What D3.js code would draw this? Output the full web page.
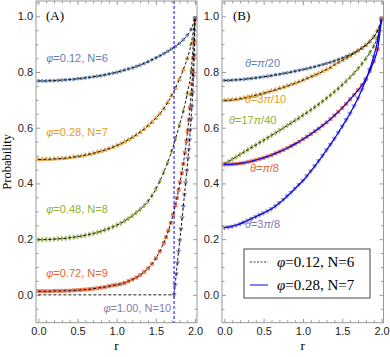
<!DOCTYPE html>
<html>
<head>
<meta charset="utf-8">
<script src="https://cdn.jsdelivr.net/npm/d3@7"></script>
<style>
  body { margin: 0; background: #fff; }
  svg { display: block; }
  .tick text { font-family: "Liberation Sans", Arial, sans-serif; font-size: 11px; fill: #222; }
  .tick line { stroke: #999; }
  .serif { font-family: "Liberation Serif", "Times New Roman", serif; }
  .lab { font-family: "Liberation Sans", Arial, sans-serif; font-size: 11px; }
</style>
</head>
<body>
<div id="chart-area"></div>
<script>
// r grid shared by most series
var rGrid = [0,0.05,0.1,0.15,0.2,0.25,0.3,0.35,0.4,0.45,0.5,0.55,0.6,0.65,0.7,0.75,0.8,0.85,0.9,0.95,
  1.0,1.05,1.1,1.15,1.2,1.25,1.3,1.35,1.4,1.45,1.5,1.55,1.6,1.65,1.7,1.75,1.8,1.85,1.9,1.95,2.0];

// panel (A)
var phi012 = [0.768,0.768,0.768,0.769,0.769,0.770,0.771,0.772,0.773,0.774,0.776,0.777,0.779,0.781,0.783,0.785,0.787,0.790,0.793,0.796,
  0.799,0.803,0.807,0.811,0.815,0.820,0.825,0.831,0.837,0.844,0.851,0.858,0.866,0.874,0.883,0.892,0.903,0.916,0.932,0.953,0.995];
var phi028 = [0.486,0.486,0.487,0.487,0.488,0.489,0.490,0.491,0.493,0.495,0.497,0.499,0.502,0.505,0.508,0.512,0.516,0.520,0.525,0.530,
  0.536,0.542,0.549,0.557,0.565,0.574,0.584,0.595,0.607,0.620,0.634,0.650,0.668,0.690,0.715,0.742,0.773,0.808,0.848,0.900,0.990];
var phi048 = [0.198,0.198,0.199,0.199,0.200,0.201,0.202,0.203,0.205,0.207,0.209,0.211,0.214,0.217,0.220,0.224,0.228,0.233,0.238,0.244,
  0.250,0.257,0.265,0.274,0.284,0.295,0.307,0.320,0.336,0.356,0.380,0.408,0.440,0.475,0.515,0.560,0.608,0.660,0.722,0.805,0.990];
var rPhi072 = [0,0.05,0.1,0.15,0.2,0.25,0.3,0.35,0.4,0.45,0.5,0.55,0.6,0.65,0.7,0.75,0.8,0.85,0.9,0.95,
  1.0,1.05,1.1,1.15,1.2,1.25,1.3,1.35,1.4,1.45,1.5,1.55,1.6,1.63,1.66,1.69,1.72,1.75,1.77,1.79,1.81,1.83,
  1.85,1.87,1.89,1.905,1.92,1.935,1.95,1.96,1.97,1.98,1.99,2.0];
var phi072 = [0.013,0.013,0.013,0.013,0.014,0.014,0.014,0.015,0.015,0.016,0.017,0.018,0.019,0.020,0.022,0.024,0.026,0.028,0.031,0.034,
  0.036,0.039,0.043,0.049,0.055,0.062,0.071,0.082,0.095,0.111,0.131,0.156,0.186,0.207,0.231,0.258,0.288,0.322,0.348,0.376,0.405,0.437,
  0.470,0.510,0.552,0.588,0.627,0.672,0.720,0.757,0.800,0.850,0.910,0.990];
var rPhi100 = [1.732,1.745,1.76,1.775,1.79,1.805,1.82,1.835,1.85,1.865,1.88,1.895,1.91,1.92,1.93,1.94,1.95,1.96,1.97,1.98,1.99,2.0];
var phi100 = [0.0,0.035,0.075,0.115,0.155,0.195,0.236,0.277,0.318,0.360,0.402,0.445,0.490,0.522,0.556,0.592,0.632,0.676,0.726,0.785,0.860,0.990];

// panel (B)
var thetaPi20 = [0.770,0.770,0.771,0.772,0.773,0.774,0.776,0.777,0.779,0.781,0.783,0.785,0.787,0.790,0.792,0.795,0.797,0.800,0.803,0.806,
  0.809,0.812,0.816,0.819,0.823,0.827,0.831,0.835,0.840,0.845,0.850,0.856,0.862,0.869,0.877,0.886,0.896,0.909,0.925,0.948,0.990];
var theta3Pi10 = [0.698,0.699,0.700,0.702,0.704,0.707,0.710,0.713,0.717,0.720,0.724,0.728,0.732,0.736,0.741,0.745,0.750,0.755,0.760,0.765,
  0.771,0.777,0.783,0.789,0.795,0.802,0.809,0.816,0.826,0.834,0.842,0.850,0.858,0.867,0.876,0.886,0.897,0.910,0.926,0.948,0.990];
var theta17Pi40 = [0.470,0.478,0.487,0.495,0.504,0.513,0.521,0.530,0.538,0.547,0.555,0.564,0.573,0.581,0.590,0.599,0.608,0.617,0.626,0.635,
  0.645,0.654,0.664,0.674,0.684,0.695,0.706,0.717,0.729,0.741,0.754,0.767,0.781,0.796,0.812,0.829,0.848,0.869,0.893,0.925,0.985];
var thetaPi8 = [0.468,0.468,0.469,0.470,0.472,0.474,0.477,0.480,0.484,0.488,0.492,0.497,0.502,0.508,0.514,0.520,0.527,0.534,0.542,0.550,
  0.559,0.568,0.577,0.587,0.597,0.608,0.619,0.631,0.644,0.657,0.671,0.686,0.702,0.718,0.735,0.753,0.775,0.803,0.838,0.882,0.990];
var theta3Pi8 = [0.241,0.243,0.246,0.250,0.255,0.261,0.268,0.274,0.281,0.287,0.294,0.301,0.309,0.319,0.330,0.342,0.355,0.368,0.382,0.396,
  0.410,0.427,0.444,0.462,0.481,0.500,0.520,0.540,0.561,0.583,0.605,0.628,0.652,0.678,0.706,0.737,0.771,0.810,0.855,0.912,0.990];

var xTicks = [0, 0.5, 1.0, 1.5, 2.0];
var yTicks = [0.0, 0.2, 0.4, 0.6, 0.8, 1.0];
var colors = ["#5E81B5", "#E19C24", "#8FB032", "#EB6235", "#8778B3"];
var labelsA = [["φ", "=0.12, N=6"], ["φ", "=0.28, N=7"], ["φ", "=0.48, N=8"], ["φ", "=0.72, N=9"], ["φ", "=1.00, N=10"]];
var labelsB = [["θ", "=", "π", "/20"], ["θ", "=3", "π", "/10"], ["θ", "=17", "π", "/40"], ["θ", "=", "π", "/8"], ["θ", "=3", "π", "/8"]];
var legendLabels = [["φ", "=0.12, N=6"], ["φ", "=0.28, N=7"]];

var width = 390, height = 357;
var svg = d3.select("#chart-area").append("svg")
    .attr("width", width)
    .attr("height", height);

var y = d3.scaleLinear().domain([-0.1, 1.055]).range([322.7, 1]);
var xA = d3.scaleLinear().domain([-0.03, 2.025]).range([36, 197]);
var xB = d3.scaleLinear().domain([-0.03, 2.025]).range([222, 383.5]);

var symbols = [d3.symbolCircle, d3.symbolTriangle, d3.symbolDiamond, d3.symbolSquare, d3.symbolTriangle];
var symSize = [8, 9, 8, 11, 9];

function drawFrame(x) {
    var g = svg.append("g");
    var x0 = x.range()[0], x1 = x.range()[1];
    var y0 = y.range()[1], y1 = y.range()[0];
    var minorX = d3.range(0, 2.01, 0.1).filter(v => Math.abs(v * 2 - Math.round(v * 2)) > 1e-6);
    var minorY = d3.range(-0.05, 1.051, 0.05).filter(v => Math.abs(v * 5 - Math.round(v * 5)) > 1e-6);

    g.append("g").attr("transform", "translate(0," + y1 + ")")
        .call(d3.axisBottom(x).tickValues(xTicks).tickFormat(d3.format(".1f")).tickSize(-4).tickSizeOuter(0).tickPadding(5));
    g.append("g").attr("transform", "translate(0," + y1 + ")")
        .call(d3.axisBottom(x).tickValues(minorX).tickFormat("").tickSize(-2.5).tickSizeOuter(0));
    g.append("g").attr("transform", "translate(0," + y0 + ")")
        .call(d3.axisTop(x).tickValues(xTicks).tickFormat("").tickSize(-4).tickSizeOuter(0));
    g.append("g").attr("transform", "translate(0," + y0 + ")")
        .call(d3.axisTop(x).tickValues(minorX).tickFormat("").tickSize(-2.5).tickSizeOuter(0));
    g.append("g").attr("transform", "translate(" + x0 + ",0)")
        .call(d3.axisLeft(y).tickValues(yTicks).tickFormat(d3.format(".1f")).tickSize(-4).tickSizeOuter(0).tickPadding(3));
    g.append("g").attr("transform", "translate(" + x0 + ",0)")
        .call(d3.axisLeft(y).tickValues(minorY).tickFormat("").tickSize(-2.5).tickSizeOuter(0));
    g.append("g").attr("transform", "translate(" + x1 + ",0)")
        .call(d3.axisRight(y).tickValues(yTicks).tickFormat("").tickSize(-4).tickSizeOuter(0));
    g.append("g").attr("transform", "translate(" + x1 + ",0)")
        .call(d3.axisRight(y).tickValues(minorY).tickFormat("").tickSize(-2.5).tickSizeOuter(0));
    g.selectAll(".domain").remove();

    g.append("rect")
        .attr("x", x0).attr("y", y0)
        .attr("width", x1 - x0).attr("height", y1 - y0)
        .attr("fill", "none").attr("stroke", "#999").attr("stroke-width", 1);

    svg.append("text").attr("class", "serif")
        .attr("x", (x0 + x1) / 2).attr("y", 350)
        .attr("text-anchor", "middle").attr("font-size", "13px")
        .text("r");
}

function drawMarkers(x, rs, ps, i) {
    var rot = i == 4 ? 180 : 0;
    svg.append("g").selectAll("path").data(rs.map((r, k) => [r, ps[k]]))
        .enter().append("path")
        .attr("d", d3.symbol().type(symbols[i]).size(symSize[i]))
        .attr("transform", d => "translate(" + x(d[0]) + "," + y(d[1]) + ") rotate(" + rot + ")")
        .attr("fill", colors[i])
        .attr("fill-opacity", 0.8)
        .attr("stroke", d3.color(colors[i]).darker(0.3))
        .attr("stroke-width", 0.4);
}

function drawLine(x, rs, ps, color, dash, w) {
    var line = d3.line().x(d => x(d[0])).y(d => y(d[1])).curve(d3.curveMonotoneX);
    svg.append("path")
        .datum(rs.map((r, k) => [r, ps[k]]))
        .attr("d", line)
        .attr("fill", "none")
        .attr("stroke", color)
        .attr("stroke-width", w)
        .attr("stroke-dasharray", dash);
}

function drawLabel(x, parts, r, p, color, italicIdx) {
    var t = svg.append("text").attr("class", "lab")
        .attr("x", x(r)).attr("y", y(p)).attr("fill", color);
    parts.forEach((s, k) => {
        t.append("tspan").attr("font-style", italicIdx.indexOf(k) >= 0 ? "italic" : "normal").text(s);
    });
}

// ---------- panel A ----------
drawFrame(xA);
var seriesA = [[rGrid, phi012], [rGrid, phi028], [rGrid, phi048], [rPhi072, phi072], [rPhi100, phi100]];
seriesA.forEach((s, i) => drawMarkers(xA, s[0], s[1], i));
seriesA.forEach((s, i) => {
    var rs = s[0], ps = s[1];
    if (i == 4) { rs = [0].concat(rs); ps = [0].concat(ps); }
    drawLine(xA, rs, ps, "#000", "3,2", 0.9);
});
// vertical line at r = sqrt(3)
svg.append("line")
    .attr("x1", xA(Math.sqrt(3))).attr("x2", xA(Math.sqrt(3)))
    .attr("y1", y.range()[1]).attr("y2", y.range()[0])
    .attr("stroke", "#0000ff").attr("stroke-width", 1).attr("stroke-dasharray", "3,2");

var labPosA = [[0.1, 0.836], [0.1, 0.570], [0.1, 0.294], [0.1, 0.064], [0.83, -0.061]];
labelsA.forEach((l, i) => drawLabel(xA, l, labPosA[i][0], labPosA[i][1], colors[i], [0]));

svg.append("text").attr("class", "serif")
    .attr("x", 46).attr("y", 20).attr("font-size", "13px").text("(A)");
svg.append("text").attr("class", "serif")
    .attr("transform", "translate(11," + ((y.range()[0] + y.range()[1]) / 2) + ") rotate(-90)")
    .attr("text-anchor", "middle").attr("font-size", "12.5px")
    .text("Probability");

// ---------- panel B ----------
drawFrame(xB);
var seriesB = [thetaPi20, theta3Pi10, theta17Pi40, thetaPi8, theta3Pi8];
seriesB.forEach((s, i) => drawMarkers(xB, rGrid, s, i));
seriesB.forEach((s, i) => {
    if (i < 3) drawLine(xB, rGrid, s, "#000", "3,2", 0.9);
    else drawLine(xB, rGrid, s, "#0000ff", null, 1.2);
});
var labPosB = [[0.262, 0.818], [0.262, 0.688], [0.06, 0.613], [0.326, 0.441], [0.262, 0.240]];
labelsB.forEach((l, i) => drawLabel(xB, l, labPosB[i][0], labPosB[i][1], colors[i], [0, 2]));

svg.append("text").attr("class", "serif")
    .attr("x", 233).attr("y", 20).attr("font-size", "13px").text("(B)");

// legend
var leg = svg.append("g").attr("transform", "translate(244,249)");
leg.append("rect").attr("width", 126).attr("height", 49)
    .attr("fill", "#fff").attr("stroke", "#444").attr("stroke-width", 1);
var legStyles = [{stroke: "#000", dash: "2,1.5", w: 0.8}, {stroke: "#8080ff", dash: null, w: 2}];
legendLabels.forEach((l, i) => {
    var yy = 13 + i * 23;
    leg.append("line").attr("x1", 6).attr("x2", 24).attr("y1", yy).attr("y2", yy)
        .attr("stroke", legStyles[i].stroke).attr("stroke-width", legStyles[i].w)
        .attr("stroke-dasharray", legStyles[i].dash);
    var t = leg.append("text").attr("class", "serif").attr("x", 33).attr("y", yy + 5)
        .attr("font-size", "15px");
    t.append("tspan").attr("font-style", "italic").text(l[0]);
    t.append("tspan").text(l[1]);
});
</script>
</body>
</html>
